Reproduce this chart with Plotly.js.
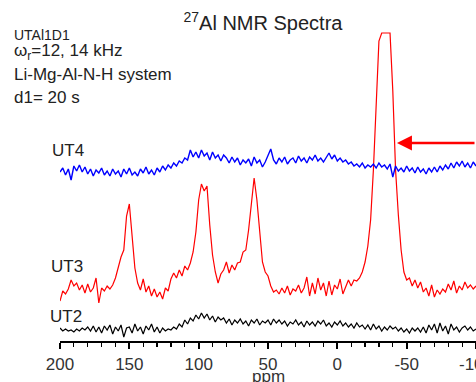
<!DOCTYPE html>
<html><head><meta charset="utf-8">
<script src="https://cdn.plot.ly/plotly-3.0.1.min.js"></script>
<style>html,body{margin:0;padding:0;background:#fff;}#chart{width:476px;height:382px;}</style>
</head><body><div id="chart"></div>
<script>
// chemical shift grid: start 200 ppm, step -2 ppm (151 points, 200 .. -100)
const ppmStart = 200;
const ppmStep = -2;
// UT4 (blue), offset intensities
const ut4 = [169,173,166,172,161,175,170,176,169,174,167,172,165,171,168,173,166,170,165,172,
167,170,164,172,167,173,166,169,165,172,168,174,167,171,166,173,169,175,171,176,
173,178,175,180,178,183,181,191,184,189,183,191,185,188,181,189,183,186,180,186,
183,178,184,179,183,176,181,178,182,175,184,178,181,174,179,185,192,181,177,183,
179,184,177,181,183,178,185,180,183,178,184,181,186,180,183,179,184,188,182,186,
180,183,179,181,177,179,175,177,174,178,173,176,174,177,173,178,174,176,172,177,
164,175,170,173,169,175,170,173,168,174,169,172,167,173,169,174,169,175,171,176,
172,178,173,179,175,180,174,178,173,179,175];
// UT3 (red)
const ut3 = [40,50,47,52,61,55,58,51,56,48,57,49,53,63,38,53,50,55,52,56,
63,75,84,91,125,137,101,73,58,51,62,49,55,45,52,44,49,42,53,50,
62,68,63,71,65,75,71,78,89,109,141,157,150,155,116,86,69,58,67,71,
79,68,76,71,78,79,89,91,111,136,163,141,106,79,69,65,55,49,51,47,
53,48,55,46,52,50,56,48,53,64,45,58,47,63,51,58,45,60,46,56,
52,62,47,54,61,55,61,60,63,69,79,95,121,171,241,300,308,308,308,308,
250,171,126,91,69,61,63,55,61,53,59,49,53,45,56,44,51,47,52,49,
57,51,60,48,55,51,59,53,56,52,55];
// UT2 (black)
const ut2 = [13,10,12,10,11,9,12,10,13,11,14,10,15,9,14,8,15,11,16,7,
14,10,16,4,13,14,8,17,10,14,7,15,11,17,9,14,8,13,10,12,
11,14,12,17,14,21,17,23,20,26,22,28,23,27,21,25,19,24,21,23,
18,22,16,21,18,22,17,20,15,21,18,22,16,20,18,21,16,22,18,21,
17,20,15,19,17,21,16,19,14,20,16,19,15,20,17,21,15,18,14,19,
16,20,15,18,14,17,13,18,14,16,12,16,11,17,12,15,10,14,11,15,
12,14,10,13,9,12,8,13,10,13,9,14,8,16,11,17,8,18,10,15,
7,17,11,14,9,13,15,11,14,10,12];
const tickVals = [200,150,100,50,0,-50,-100];
const tickText = ['200','150','100','50','0','-50','-100'];

const font = 'Arial, "Liberation Sans", sans-serif';
function tr(y, color, w){
  return {type:'scatter', mode:'lines', x0:ppmStart, dx:ppmStep, y:y,
          line:{color:color, width:w}, hoverinfo:'skip', showlegend:false};
}
const data = [tr(ut2,'#000000',1.2), tr(ut3,'#ff0000',1.2), tr(ut4,'#0000ff',1.4)];

function txt(t, x, y, size, xanchor){
  return {text:t, xref:'paper', yref:'paper', x:x, y:y, xanchor:xanchor||'left', yanchor:'middle',
          showarrow:false, font:{family:font, size:size, color:'#222'}};
}
const layout = {
  width:476, height:382,
  margin:{l:60, r:0, t:30, b:41, autoexpand:false},
  paper_bgcolor:'#fff', plot_bgcolor:'#fff',
  title:{text:'<sup>27</sup>Al NMR Spectra', xref:'container', yref:'container',
         x:0.5525, y:0.94, xanchor:'center', yanchor:'middle',
         font:{family:font, size:20, color:'#222'}},
  xaxis:{range:[200,-100], showgrid:false, zeroline:false, showline:true, linecolor:'#000', linewidth:2,
         ticks:'outside', ticklen:6, tickwidth:2, tickcolor:'#000',
         tickmode:'array', tickvals:tickVals, ticktext:tickText, ticklabelstandoff:1,
         ticklabeloverflow:'allow',
         tickfont:{family:font, size:17, color:'#333'},
         minor:{dtick:10, tick0:0, ticks:'outside', ticklen:4, tickwidth:1.2, tickcolor:'#000'},
         fixedrange:true},
  yaxis:{range:[0,311], visible:false, showgrid:false, zeroline:false, fixedrange:true},
  annotations:[
    txt('UTAl1D1', -0.1154, 0.985, 14),
    txt('ω<sub>r</sub>=12, 14 kHz', -0.1154, 0.928, 17),
    txt('Li-Mg-Al-N-H system', -0.1154, 0.857, 17),
    txt('d1= 20 s', -0.1154, 0.783, 17),
    txt('UT4', -0.024, 0.614, 17),
    txt('UT3', -0.026, 0.241, 17),
    txt('UT2', -0.029, 0.080, 17),
    {text:'ppm', xref:'x', yref:'paper', x:50, y:-0.114, xanchor:'center', yanchor:'middle',
     showarrow:false, font:{family:font, size:17, color:'#333'}},
    {text:'', xref:'x', yref:'y', x:-43, y:198, ax:95, ay:0, showarrow:true,
     arrowhead:2, arrowsize:1.2, arrowwidth:2.5, arrowcolor:'#ff0000', standoff:0}
  ]
};
Plotly.newPlot('chart', data, layout, {staticPlot:true, displayModeBar:false});
</script></body></html>
